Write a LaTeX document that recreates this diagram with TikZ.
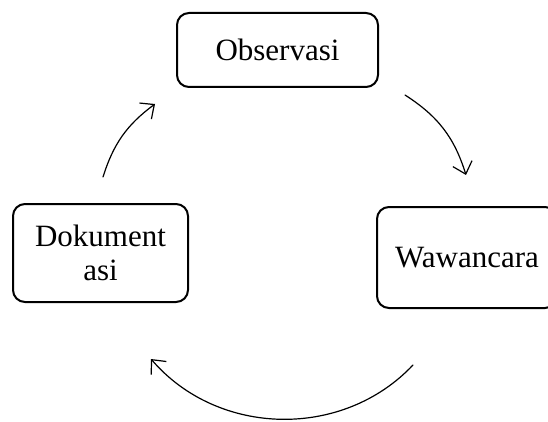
\documentclass[tikz,border=0pt]{standalone}
\usepackage{fontspec}
\setmainfont{Liberation Serif}
\usepackage{tikz}
\usetikzlibrary{arrows.meta}
\tikzset{>={Straight Barb[length=11pt,width=20pt]},
  stagebox/.style={draw,line width=2pt,rounded corners=12pt,align=center,
    font=\fontsize{31}{34}\selectfont,inner sep=0pt},
  cyclearrow/.style={->,line width=1.2pt}}

\begin{document}
\begin{tikzpicture}[x=1pt,y=1pt,line cap=round]

  \clip (0,0) rectangle (548,421);

  \node (obs) [stagebox,minimum width=201pt,minimum height=74pt] at (277.5,371) {Observasi};
  \node (waw) [stagebox,minimum width=180pt,minimum height=101pt] at (467,163.5) {Wawancara};
  \node (dok) [stagebox,minimum width=175pt,minimum height=98pt] at (100.5,168) {Dokument\\asi};

  \coordinate (tr1) at (405,326);
  \coordinate (tr2) at (466,246);
  \coordinate (bt1) at (413,56);
  \coordinate (bt2) at (151,62);
  \coordinate (tl1) at (103,244);
  \coordinate (tl2) at (155,317);

  \draw [cyclearrow] (tr1) to[bend left=20] (tr2);
  \draw [cyclearrow] (bt1) to[bend left=48] (bt2);
  \draw [cyclearrow] (tl1) to[bend left=18] (tl2);

\end{tikzpicture}
\end{document}
